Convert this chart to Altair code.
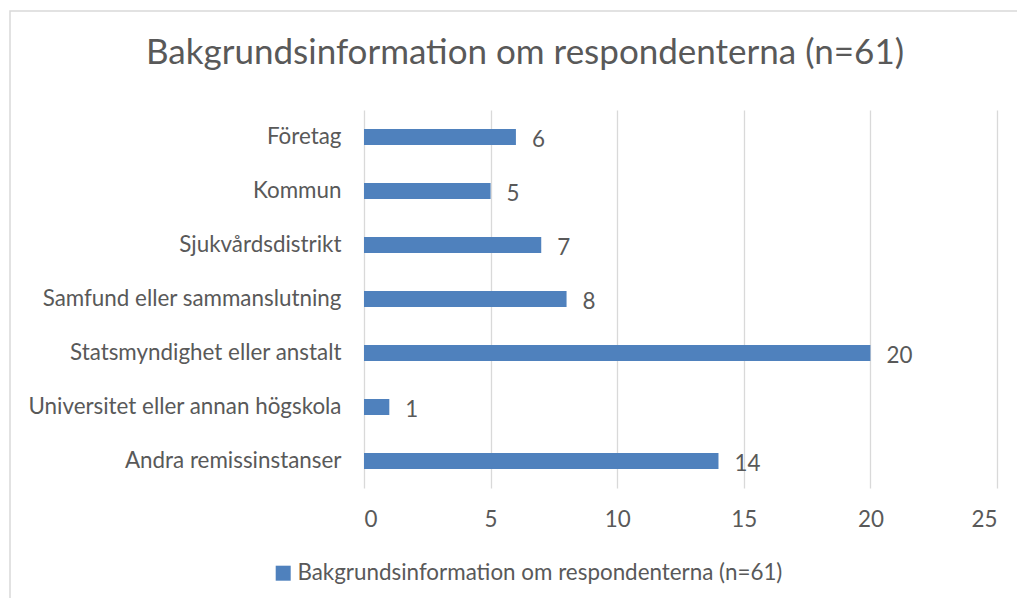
import altair as alt
import pandas as pd

categories = [
    "Företag",
    "Kommun",
    "Sjukvårdsdistrikt",
    "Samfund eller sammanslutning",
    "Statsmyndighet eller anstalt",
    "Universitet eller annan högskola",
    "Andra remissinstanser",
]
values = [6, 5, 7, 8, 20, 1, 14]
series_name = "Bakgrundsinformation om respondenterna (n=61)"
chart_title = "Bakgrundsinformation om respondenterna (n=61)"
x_ticks = [0, 5, 10, 15, 20, 25]

df = pd.DataFrame({"category": categories, "value": values, "series": series_name})

FONT = "Lato"
TXT = "#595959"
BAR = "#4F81BD"
GRID = "#D9D9D9"
FS = 22.4

base = alt.Chart(df)

bars = base.mark_bar(size=16).encode(
    y=alt.Y(
        "category:N",
        sort=categories,
        scale=alt.Scale(paddingInner=0, paddingOuter=0),
        axis=alt.Axis(
            title=None, ticks=False, domain=False, labelFontSize=FS,
            labelColor=TXT, labelFont=FONT, labelPadding=23, labelLimit=400,
        ),
    ),
    x=alt.X(
        "value:Q",
        scale=alt.Scale(domain=[0, 25], nice=False),
        axis=alt.Axis(
            title=None, values=x_ticks, ticks=False, domain=False,
            labelFontSize=FS, labelColor=TXT, labelFont=FONT, labelPadding=20,
            grid=True, gridColor=GRID, gridWidth=1.3,
        ),
    ),
    color=alt.Color(
        "series:N",
        scale=alt.Scale(range=[BAR]),
        legend=alt.Legend(
            title=None, orient="none", legendX=-92, legendY=452,
            symbolType="square", symbolSize=225, symbolStrokeWidth=0,
            labelFontSize=FS, labelColor=TXT, labelFont=FONT, labelLimit=800,
            symbolOpacity=1, labelOffset=3,
        ),
    ),
)

labels = base.mark_text(
    align="left", baseline="middle", dx=16, dy=3, fontSize=FS, color=TXT, font=FONT
).encode(
    y=alt.Y("category:N", sort=categories),
    x="value:Q",
    text="value:Q",
)

title_df = pd.DataFrame({"t": [chart_title]})
title = alt.Chart(title_df).mark_text(
    align="center", baseline="middle", fontSize=35, color=TXT, font=FONT
).encode(
    x=alt.value(161), y=alt.value(-57), text="t:N"
)

frame = alt.Chart(pd.DataFrame({"a": [0]})).mark_rect(
    fillOpacity=0, stroke=GRID, strokeWidth=1.5
).encode(
    x=alt.value(-354), x2=alt.value(656), y=alt.value(-99), y2=alt.value(520)
)

chart = (
    alt.layer(frame, title, bars, labels)
    .properties(
        width=633,
        height=378,
        autosize=alt.AutoSizeParams(type="none"),
        padding={"left": 356, "top": 102, "right": 20, "bottom": 110},
    )
    .configure_view(stroke=None)
)

chart.save("out.html", embed_options={"renderer": "svg", "actions": False})
